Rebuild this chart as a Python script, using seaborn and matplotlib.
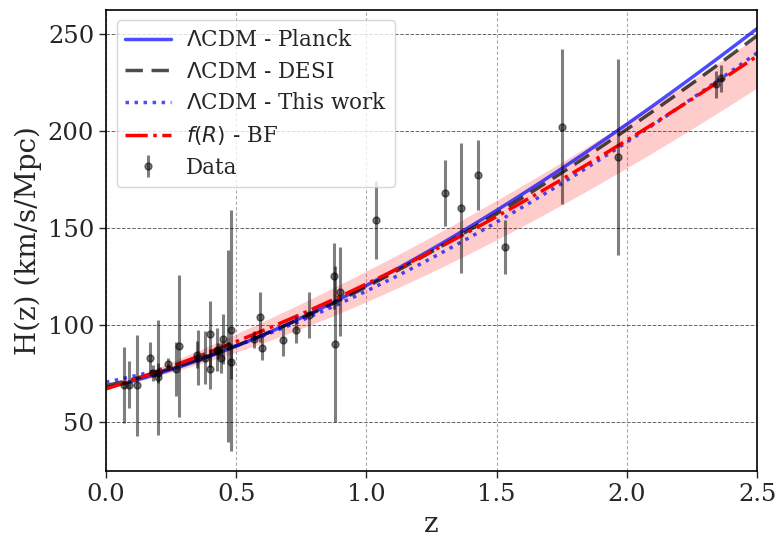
import numpy as np
import pandas as pd
import matplotlib
matplotlib.use("Agg")
import matplotlib.pyplot as plt
import seaborn as sns

# ---- observational H(z) data (z, H, sigma) ----
z_data = [0.07, 0.09, 0.12, 0.17, 0.179, 0.199, 0.20, 0.24, 0.27, 0.28,
          0.35, 0.352, 0.3802, 0.40, 0.4004, 0.4247, 0.43, 0.44, 0.4497, 0.47,
          0.4783, 0.48, 0.57, 0.593, 0.60, 0.68, 0.73, 0.781, 0.875, 0.88,
          0.90, 1.037, 1.30, 1.363, 1.43, 1.53, 1.75, 1.965, 2.34, 2.36]
H_data = [69.0, 69.0, 68.6, 83.0, 75.0, 75.0, 72.9, 79.7, 77.0, 88.8,
          84.4, 83.0, 83.0, 95.0, 77.0, 87.1, 86.5, 82.6, 92.8, 89.0,
          80.9, 97.0, 92.4, 104.0, 87.9, 92.0, 97.3, 105.0, 125.0, 90.0,
          117.0, 154.0, 168.0, 160.0, 177.0, 140.0, 202.0, 186.5, 224.0, 227.0]
sig_data = [19.6, 12.0, 26.2, 8.0, 4.0, 5.0, 29.6, 3.0, 14.0, 36.6,
            7.0, 14.0, 13.5, 17.0, 10.2, 11.2, 4.0, 7.8, 12.9, 49.6,
            9.0, 62.0, 4.5, 13.0, 6.1, 8.0, 7.0, 12.0, 17.0, 40.0,
            23.0, 20.0, 17.0, 33.6, 18.0, 14.0, 40.0, 50.4, 7.0, 7.0]

# ---- model parameters ----
planck = dict(H0=67.4, Om=0.312, w=-1.0)
desi = dict(H0=68.5, Om=0.292, w=-1.0)
thiswork = dict(H0=70.3, Om=0.255, w=-1.0)
fR_bf = dict(H0=66.8, Om=0.253, w=-0.75)
fR_up = dict(H0=66.8, Om=0.250, w=-0.62)
fR_lo = dict(H0=66.8, Om=0.232, w=-0.90)

labels = [r"$\Lambda$CDM - Planck", r"$\Lambda$CDM - DESI",
          r"$\Lambda$CDM - This work", r"$f(R)$ - BF", "Data"]

z = np.linspace(0, 2.5, 300)


def hubble(p, zz):
    return p["H0"] * np.sqrt(p["Om"] * (1 + zz) ** 3
                             + (1 - p["Om"]) * (1 + zz) ** (3 * (1 + p["w"])))


sns.set_style("ticks")
plt.rcParams["font.family"] = ["DejaVu Serif"]
plt.rcParams["mathtext.fontset"] = "dejavusans"

fig = plt.figure(figsize=(7.79, 5.37), dpi=100)
ax = fig.add_axes([0.136, 0.123, 0.836, 0.859])

ax.fill_between(z, hubble(fR_lo, z), hubble(fR_up, z), color="red",
                alpha=0.2, linewidth=0)

df = pd.DataFrame({"z": z,
                   "planck": hubble(planck, z),
                   "desi": hubble(desi, z),
                   "this": hubble(thiswork, z),
                   "fr": hubble(fR_bf, z)})

sns.lineplot(data=df, x="z", y="planck", ax=ax, color="blue", alpha=0.7,
             linewidth=2.5, label=labels[0])
sns.lineplot(data=df, x="z", y="desi", ax=ax, color="black", alpha=0.7,
             linewidth=2.5, linestyle=(0, (5, 2.5)), label=labels[1])
sns.lineplot(data=df, x="z", y="this", ax=ax, color="blue", alpha=0.7,
             linewidth=2.5, linestyle=(0, (1, 1.6)), label=labels[2])
sns.lineplot(data=df, x="z", y="fr", ax=ax, color="red",
             linewidth=2.5, linestyle="-.", label=labels[3])

ax.errorbar(z_data, H_data, yerr=sig_data, fmt="o", color="black",
            alpha=0.5, markersize=5, elinewidth=2.2, capsize=0,
            label=labels[4])

ax.set_xlim(0, 2.5)
ax.set_ylim(24.5, 262.5)
ax.set_xticks([0.0, 0.5, 1.0, 1.5, 2.0, 2.5])
ax.set_yticks([50, 100, 150, 200, 250])
ax.tick_params(labelsize=17.5, length=5, width=1, direction="out")
ax.set_xlabel("z", fontsize=20)
ax.set_ylabel("H(z) (km/s/Mpc)", fontsize=20)
ax.yaxis.grid(True, linestyle="--", color="#666666", linewidth=0.7)
ax.xaxis.grid(True, linestyle=(0, (3, 2)), color="#aaaaaa", linewidth=0.8)
for s in ax.spines.values():
    s.set_visible(True)
    s.set_color("black")
    s.set_linewidth(1.2)

ax.legend(loc="upper left", fontsize=15.5, framealpha=0.8,
          handlelength=2.1, handletextpad=0.7, borderpad=0.4,
          labelspacing=0.45)

fig.savefig("out.png", dpi=100)
